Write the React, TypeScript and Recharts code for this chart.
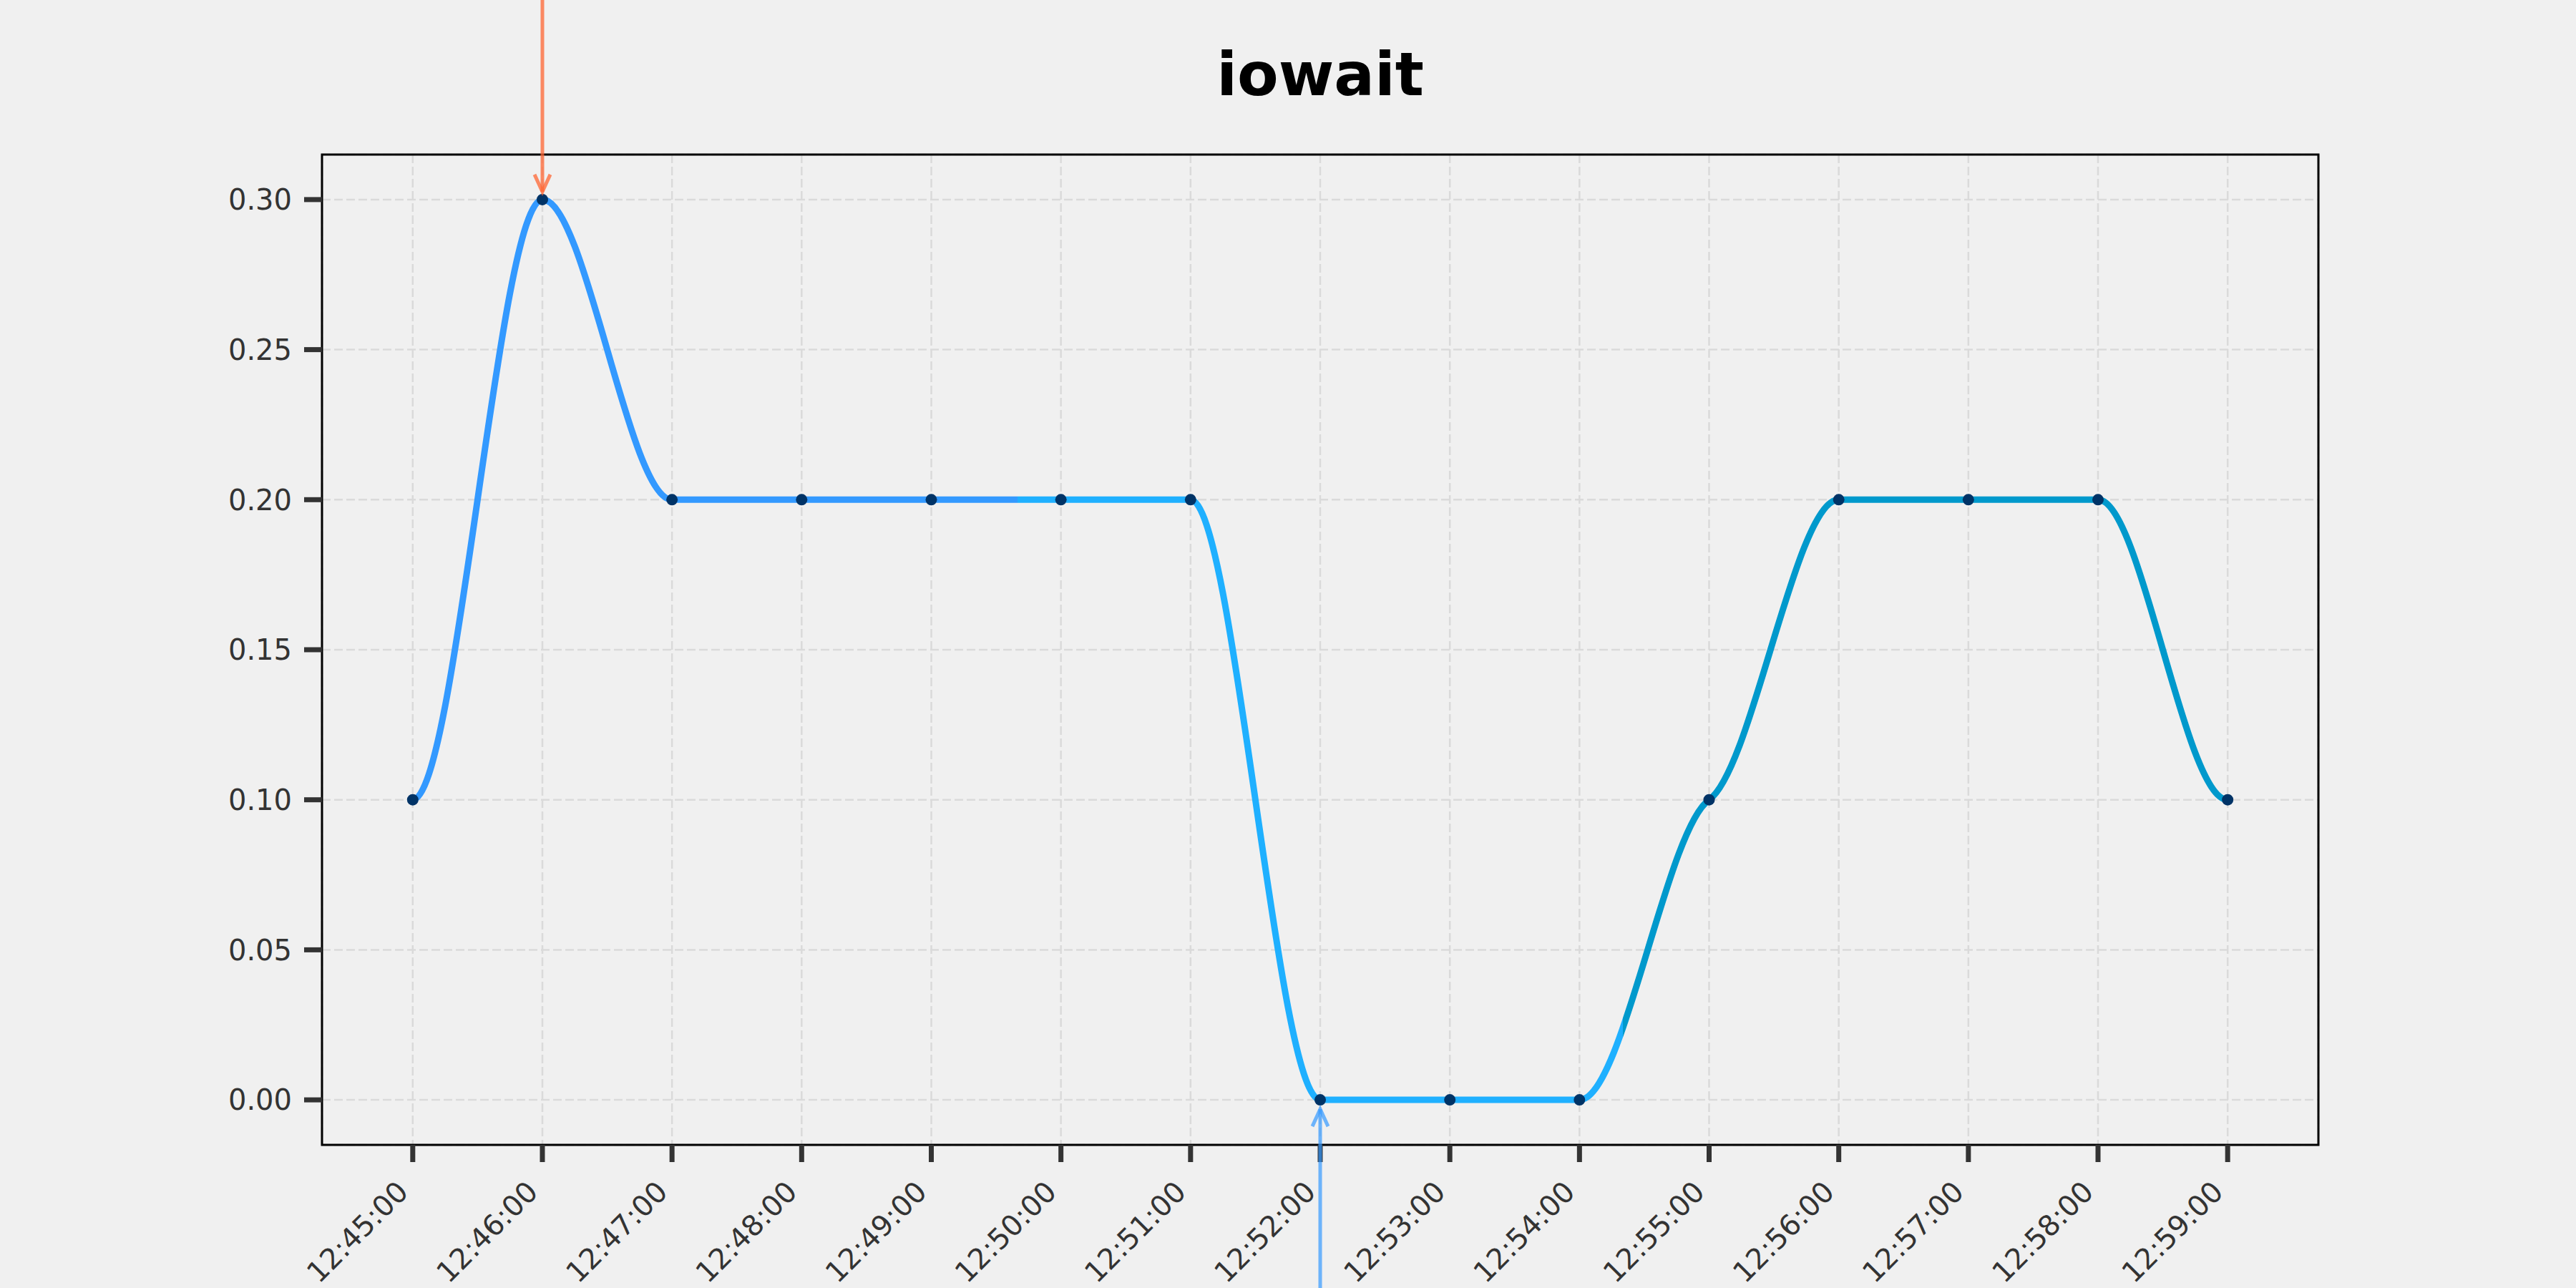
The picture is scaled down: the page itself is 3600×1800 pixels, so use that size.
import {
  LineChart,
  Line,
  XAxis,
  YAxis,
  CartesianGrid,
  ReferenceArea,
  ReferenceDot,
} from "recharts";

const times = [
  "12:45:00", "12:46:00", "12:47:00", "12:48:00", "12:49:00",
  "12:50:00", "12:51:00", "12:52:00", "12:53:00", "12:54:00",
  "12:55:00", "12:56:00", "12:57:00", "12:58:00", "12:59:00",
];
const iowait = [0.1, 0.3, 0.2, 0.2, 0.2, 0.2, 0.2, 0.0, 0.0, 0.0, 0.1, 0.2, 0.2, 0.2, 0.1];
const yTicks = [0, 0.05, 0.1, 0.15, 0.2, 0.25, 0.3];

const data = times.map((t, i) => ({ idx: i, time: t, value: iowait[i] }));
const xTicks = times.map((_, i) => i);

const maxVal = Math.max(...iowait);
const minVal = Math.min(...iowait);
const maxIdx = iowait.indexOf(maxVal);
const minIdx = iowait.indexOf(minVal);

const FONT = "'DejaVu Sans', sans-serif";

// hermite curve: flat at the ends and at turns, damped slope where the series keeps climbing
const DAMP = 0.3;
function softCurve(context: any) {
  let xs: number[] = [];
  let ys: number[] = [];
  return {
    areaStart() {},
    areaEnd() {},
    lineStart() {
      xs = [];
      ys = [];
    },
    point(x: number, y: number) {
      xs.push(+x);
      ys.push(+y);
    },
    lineEnd() {
      const n = xs.length;
      if (!n) return;
      context.moveTo(xs[0], ys[0]);
      if (n === 1) return;
      const s: number[] = [];
      for (let i = 0; i < n - 1; i++) s.push((ys[i + 1] - ys[i]) / (xs[i + 1] - xs[i]));
      const t: number[] = new Array(n).fill(0);
      for (let i = 1; i < n - 1; i++) {
        const h0 = xs[i] - xs[i - 1];
        const h1 = xs[i + 1] - xs[i];
        const p = (s[i - 1] * h1 + s[i] * h0) / (h0 + h1);
        const m = (Math.sign(s[i - 1]) + Math.sign(s[i])) *
          Math.min(Math.abs(s[i - 1]), Math.abs(s[i]), 0.5 * Math.abs(p));
        t[i] = (m || 0) * DAMP;
      }
      for (let i = 0; i < n - 1; i++) {
        const h = (xs[i + 1] - xs[i]) / 3;
        context.bezierCurveTo(
          xs[i] + h, ys[i] + t[i] * h,
          xs[i + 1] - h, ys[i + 1] - t[i + 1] * h,
          xs[i + 1], ys[i + 1]
        );
      }
    },
  };
}

function XTick(props: any) {
  const { x, y, payload } = props;
  const px = x - 4;
  const py = y + 44;
  return (
    <text
      x={px}
      y={py}
      transform={`rotate(-45 ${px} ${py})`}
      textAnchor="end"
      fontSize={40}
      fontFamily={FONT}
      fill="#333333"
    >
      {times[payload.value]}
    </text>
  );
}

function DownArrow(props: any) {
  const { cx, cy } = props;
  const tip = cy - 11;
  return (
    <g>
      <line x1={cx} y1={cy - 400} x2={cx} y2={tip} stroke="#ff6633" strokeOpacity={0.75} strokeWidth={5} />
      <polyline
        points={`${cx - 11},${tip - 24} ${cx},${tip} ${cx + 11},${tip - 24}`}
        fill="none"
        stroke="#ff6633"
        strokeOpacity={0.75}
        strokeWidth={5}
      />
    </g>
  );
}

function UpArrow(props: any) {
  const { cx, cy } = props;
  const tip = cy + 13;
  return (
    <g>
      <line x1={cx} y1={cy + 400} x2={cx} y2={tip} stroke="#3399ff" strokeOpacity={0.7} strokeWidth={5} />
      <polyline
        points={`${cx - 11},${tip + 24} ${cx},${tip} ${cx + 11},${tip + 24}`}
        fill="none"
        stroke="#3399ff"
        strokeOpacity={0.7}
        strokeWidth={5}
      />
    </g>
  );
}

export default function App() {
  return (
    <div
      style={{
        position: "absolute",
        left: 0,
        top: 0,
        width: 3600,
        height: 1800,
        background: "#f0f0f0",
        fontFamily: FONT,
        overflow: "hidden",
      }}
    >
      <div
        style={{
          position: "absolute",
          left: 1845,
          top: 62,
          transform: "translateX(-50%)",
          fontSize: 84,
          lineHeight: 1,
          fontWeight: "bold",
          color: "#000",
          whiteSpace: "nowrap",
        }}
      >
        iowait
      </div>
      <LineChart
        width={3600}
        height={1800}
        data={data}
        margin={{ top: 216, right: 360, bottom: 0, left: 0 }}
      >
        <defs>
          <linearGradient id="iowaitGrad" x1="0" y1="0" x2="1" y2="0">
            <stop offset="0" stopColor="#3399ff" />
            <stop offset="0.3333" stopColor="#3399ff" />
            <stop offset="0.3333" stopColor="#1fb0ff" />
            <stop offset="0.6667" stopColor="#1fb0ff" />
            <stop offset="0.6667" stopColor="#0099cc" />
            <stop offset="1" stopColor="#0099cc" />
          </linearGradient>
        </defs>
        <CartesianGrid stroke="#dadada" strokeDasharray="12 5" strokeWidth={2.5} />
        <XAxis
          dataKey="idx"
          type="number"
          domain={[-0.7, 14.7]}
          allowDataOverflow
          ticks={xTicks}
          interval={0}
          height={200}
          axisLine={false}
          tickSize={24}
          tickMargin={0}
          tickLine={{ stroke: "#333333", strokeWidth: 7 }}
          tick={<XTick />}
        />
        <YAxis
          type="number"
          domain={[-0.015, 0.315]}
          allowDataOverflow
          ticks={yTicks}
          width={450}
          axisLine={false}
          tickSize={25}
          tickMargin={17}
          tickLine={{ stroke: "#333333", strokeWidth: 7 }}
          tick={{ fontSize: 40, fill: "#333333", fontFamily: FONT }}
          tickFormatter={(v: number) => v.toFixed(2)}
        />
        <ReferenceArea
          x1={-0.7}
          x2={14.7}
          y1={-0.015}
          y2={0.315}
          fill="none"
          stroke="#000000"
          strokeWidth={3}
          fillOpacity={0}
          ifOverflow="visible"
        />
        <Line
          dataKey="value"
          type={softCurve as any}
          stroke="url(#iowaitGrad)"
          strokeWidth={9}
          dot={{ r: 8, fill: "#003366", stroke: "none" }}
          activeDot={false}
          isAnimationActive={false}
        />
        <ReferenceDot x={maxIdx} y={maxVal} ifOverflow="visible" shape={<DownArrow />} />
        <ReferenceDot x={minIdx} y={minVal} ifOverflow="visible" shape={<UpArrow />} />
      </LineChart>
    </div>
  );
}
